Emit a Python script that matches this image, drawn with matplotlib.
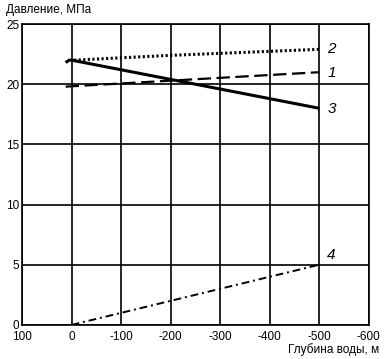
import matplotlib.pyplot as plt

plt.rcParams['font.family'] = ['Liberation Sans', 'DejaVu Sans']

# curve data (depth m, pressure MPa)
depth_1 = [12, -500]
press_1 = [19.8, 21.0]

depth_2 = [-5, -200, -500]
press_2 = [22.0, 22.4, 22.9]

depth_3 = [12, 5, 0, -200, -500]
press_3 = [21.8, 22.0, 22.0, 20.4, 18.0]

depth_4 = [0, -500]
press_4 = [0, 5]

labels = ['1', '2', '3', '4']
label_pos = [(-516, 20.9), (-516, 22.9), (-516, 17.9), (-516, 5.8)]

x_ticks = [100, 0, -100, -200, -300, -400, -500, -600]
y_ticks = [0, 5, 10, 15, 20, 25]

fig = plt.figure(figsize=(3.87, 3.59), dpi=100)
ax = fig.add_axes([0.057, 0.095, 0.896, 0.838])

ax.plot(depth_1, press_1, color='black', lw=1.6, linestyle=(0, (6, 2.5)))
ax.plot(depth_2, press_2, color='black', lw=2.2, linestyle=(0, (0.7, 0.8)))
ax.plot(depth_3, press_3, color='black', lw=2.2, solid_capstyle='butt')
ax.plot(depth_4, press_4, color='black', lw=1.4, linestyle=(0, (4, 2, 1, 2)))

for lab, (x, y) in zip(labels, label_pos):
    ax.text(x, y, lab, fontsize=11, style='italic', ha='left', va='center')

ax.set_xlim(100, -600)
ax.set_ylim(0, 25)
ax.set_xticks(x_ticks)
ax.set_xticklabels([str(v) for v in x_ticks])
ax.set_yticks(y_ticks)
ax.tick_params(length=0, labelsize=8.5, pad=2)
ax.tick_params(axis='x', pad=4.5)
ax.grid(True, color='black', lw=1.2)
for s in ax.spines.values():
    s.set_linewidth(1.2)

fig.text(0.015, 0.972, 'Давление, МПа', fontsize=8.5, ha='left', va='center')
fig.text(0.98, 0.026, 'Глубина воды, м', fontsize=8.5, ha='right', va='center')

fig.savefig('out.png', dpi=100)
